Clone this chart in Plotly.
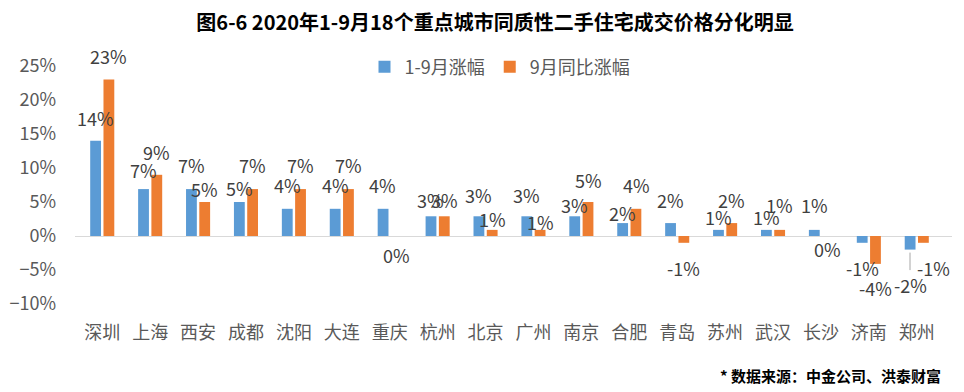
import plotly.graph_objects as go

# ---- data ----
cities = ["深圳", "上海", "西安", "成都", "沈阳", "大连", "重庆", "杭州", "北京",
          "广州", "南京", "合肥", "青岛", "苏州", "武汉", "长沙", "济南", "郑州"]
ytd_change = [0.140, 0.069, 0.069, 0.050, 0.040, 0.040, 0.040, 0.029, 0.029,
              0.029, 0.029, 0.019, 0.019, 0.009, 0.009, 0.009, -0.010, -0.020]
sep_yoy = [0.230, 0.090, 0.050, 0.069, 0.069, 0.069, 0.000, 0.029, 0.009,
           0.009, 0.050, 0.040, -0.010, 0.019, 0.009, 0.000, -0.041, -0.010]
series_names = ["1-9月涨幅", "9月同比涨幅"]
y_ticks = [-0.10, -0.05, 0.0, 0.05, 0.10, 0.15, 0.20, 0.25]

# ---- styling (label offsets in px, positive = up) ----
blue_label_dy = [23, 19, 24.5, 14.5, 23.5, 23.5, 23.5, 16.5, 21.5,
                 21.5, 11.5, 10.5, 23.5, 12.5, 12.5, 24.5, -25, -35]
orange_label_dy = [24, 23, 13, 24.5, 24.5, 24.5, -19, 16.5, 10.5,
                   7.5, 22.5, 24, -25, 23.5, 24.5, -12.5, -24, -25]
orange_label_dx = [0] * 17 + [10]

BLUE = "#5B9BD5"
ORANGE = "#ED7D31"
TXT = "#595959"
LBL = "#404040"
FONT = "Noto Sans CJK SC"

W, H = 964, 392
ML, MR, MT, MB = 75, 12, 66, 88
BARGAP, BARGROUPGAP = 0.446, 0.185
plot_w = W - ML - MR
plot_h = H - MT - MB
cat_px = plot_w / len(cities)
bar_off = cat_px * (1 - BARGAP) / 4

fig = go.Figure()
fig.add_trace(go.Bar(x=cities, y=ytd_change, name=series_names[0],
                     marker=dict(color=BLUE, line=dict(width=0))))
fig.add_trace(go.Bar(x=cities, y=sep_yoy, name=series_names[1],
                     marker=dict(color=ORANGE, line=dict(width=0))))

annotations = []
for i, c in enumerate(cities):
    v = ytd_change[i]
    ann = dict(x=c, y=v, xref="x", yref="y", text=f"{v:.0%}".replace("-0%", "0%"),
               showarrow=False, xshift=-bar_off, yshift=blue_label_dy[i],
               font=dict(family=FONT, size=18, color=LBL))
    if c == "郑州":
        ann.update(showarrow=True, ax=0, ay=-blue_label_dy[i], arrowhead=0,
                   arrowwidth=1, arrowcolor="#A6A6A6", standoff=3, yshift=0)
    annotations.append(ann)
    v2 = sep_yoy[i]
    annotations.append(dict(x=c, y=v2, xref="x", yref="y",
                            text=f"{v2:.0%}".replace("-0%", "0%"),
                            showarrow=False, xshift=bar_off + orange_label_dx[i],
                            yshift=orange_label_dy[i],
                            font=dict(family=FONT, size=18, color=LBL)))

annotations.append(dict(text="* 数据来源：中金公司、洪泰财富", xref="paper", yref="paper",
                        x=(943 - ML) / plot_w, y=-(375 - (H - MB)) / plot_h,
                        xanchor="right", yanchor="middle", showarrow=False,
                        font=dict(family=FONT, size=15, color="#000000", weight="bold")))

fig.update_layout(
    width=W, height=H,
    margin=dict(l=ML, r=MR, t=MT, b=MB, autoexpand=False),
    paper_bgcolor="white", plot_bgcolor="white",
    barmode="group", bargap=BARGAP, bargroupgap=BARGROUPGAP,
    font=dict(family=FONT, size=18, color=TXT),
    title=dict(text="<b>图6-6 2020年1-9月18个重点城市同质性二手住宅成交价格分化明显</b>",
               x=495 / W, xanchor="center", y=1 - 23 / H, yanchor="middle",
               xref="container", yref="container",
               font=dict(family=FONT, size=20, color="#000000")),
    legend=dict(orientation="h", x=(500 - ML) / plot_w, xanchor="center",
                y=(H - MB - 67) / plot_h, yanchor="middle",
                bgcolor="rgba(0,0,0,0)", font=dict(size=18, color=TXT),
                itemwidth=30, traceorder="normal"),
    showlegend=True,
    annotations=annotations,
    xaxis=dict(showgrid=False, showline=False, ticks="", tickfont=dict(size=18, color=TXT),
               ticklabelstandoff=16, fixedrange=True),
    yaxis=dict(range=[-0.10, 0.25], tickvals=y_ticks, tickformat=".0%",
               showgrid=False, zeroline=True, zerolinecolor="#D9D9D9", zerolinewidth=1,
               showline=False, ticks="", tickfont=dict(size=18, color=TXT),
               ticklabelstandoff=18, fixedrange=True),
)
fig.update_traces(cliponaxis=False, hoverinfo="skip")

fig.write_html("out.html", config={"displayModeBar": False},
               post_script="document.body.style.margin='0';")
